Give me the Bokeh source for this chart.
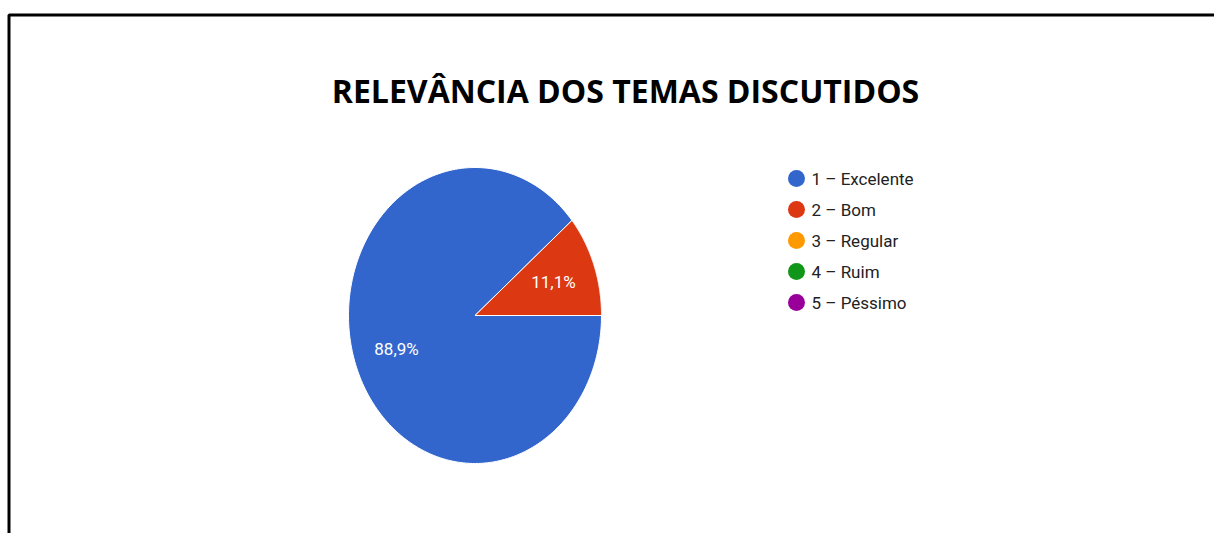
import numpy as np
from bokeh.plotting import figure
from bokeh.models import Range1d, ColumnDataSource
from bokeh.core.properties import value
from bokeh.embed import file_html
from bokeh.resources import INLINE

# ---- data ----
title_text = "RELEVÂNCIA DOS TEMAS DISCUTIDOS"
categories = ["1 – Excelente", "2 – Bom", "3 – Regular", "4 – Ruim", "5 – Péssimo"]
percentages = [88.9, 11.1, 0.0, 0.0, 0.0]
pct_labels = ["88,9%", "11,1%", "", "", ""]
colors = ["#3366CC", "#DC3912", "#FF9900", "#109618", "#990099"]

# ---- layout (picture pixel coordinates) ----
W, H = 1214, 533
CX, CY = 474.5, 315.0
RX, RY = 126.5, 148.0
LABEL_R = 0.66
LEG_X, LEG_Y0, LEG_DY = 796.0, 178.0, 31.0

p = figure(width=W, height=H,
           x_range=Range1d(0, W), y_range=Range1d(H, 0),
           output_backend="svg", toolbar_location=None,
           x_axis_location=None, y_axis_location=None,
           min_border=0)
p.grid.visible = False
p.outline_line_color = None
p.background_fill_color = "white"
p.border_fill_color = "white"

# frame lines (top and left only visible)
p.line(x=[8.5, 8.5, W + 50], y=[H + 50, 14.5, 14.5], line_color="#000000", line_width=3)

# ---- pie (clockwise from 3 o'clock) ----
fr = np.array(percentages) / sum(percentages)
ends = -2 * np.pi * np.cumsum(fr)
starts = np.concatenate([[0.0], ends[:-1]])
xs, ys, cols = [], [], []
lx, ly, lt = [], [], []
for s, e, c, lab in zip(starts, ends, colors, pct_labels):
    if abs(e - s) < 1e-9:
        continue
    t = np.linspace(s, e, 240)
    xs.append(np.concatenate([[CX], CX + RX * np.cos(t)]))
    ys.append(np.concatenate([[CY], CY - RY * np.sin(t)]))
    cols.append(c)
    m = (s + e) / 2
    lx.append(CX + LABEL_R * RX * np.cos(m))
    ly.append(CY - LABEL_R * RY * np.sin(m))
    lt.append(lab)

p.patches(xs=xs, ys=ys, fill_color=cols, line_color="white", line_width=1)
p.text(x=lx, y=ly, text=lt, text_align="center", text_baseline="middle",
       text_color="white", text_font=value("Roboto"), text_font_size="17px")

# ---- legend ----
leg_y = [LEG_Y0 + LEG_DY * i for i in range(len(categories))]
p.scatter(x=[LEG_X] * len(categories), y=leg_y, size=17, marker="circle",
          fill_color=colors, line_color=None)
p.text(x=[LEG_X + 15] * len(categories), y=leg_y, text=categories,
       text_align="left", text_baseline="middle", text_color="#222222",
       text_font=value("Roboto"), text_font_size="17px")

# ---- title ----
p.text(x=[625], y=[90], text=[title_text], text_align="center", text_baseline="middle",
       text_color="#000000", text_font=value("Open Sans"), text_font_style="bold",
       text_font_size="32px")

open("out.html", "w").write(file_html(p, INLINE))
